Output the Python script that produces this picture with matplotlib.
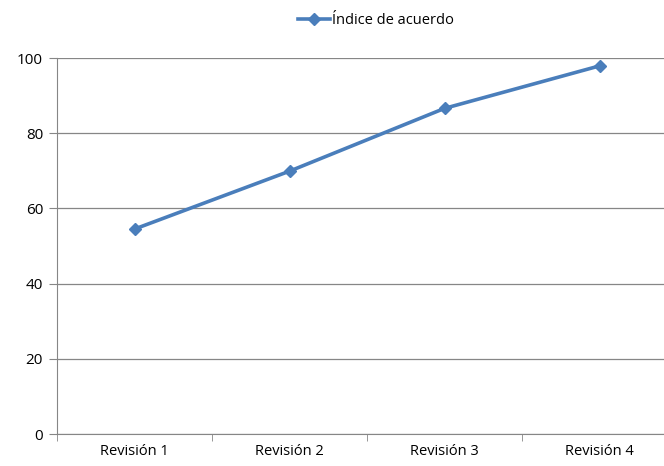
import matplotlib.pyplot as plt
import numpy as np

categories = ["Revisión 1", "Revisión 2", "Revisión 3", "Revisión 4"]
values = [54.5, 69.9, 86.6, 97.9]
yticks = [0, 20, 40, 60, 80, 100]
series_name = "Índice de acuerdo"

plt.rcParams['font.family'] = ['Open Sans', 'DejaVu Sans']

fig = plt.figure(figsize=(6.64, 4.66), dpi=100)
ax = fig.add_axes([57 / 664, 32 / 466, 1 - 57 / 664, 376 / 466])

x = np.arange(len(categories))
color = "#4A7EBB"
ax.plot(x, values, color=color, linewidth=2.6, marker="D", markersize=6.5,
        label=series_name)

ax.set_ylim(0, 100)
ax.set_yticks(yticks)
ax.set_xlim(-0.5, 3.416)
ax.set_xticks(x)
ax.set_xticklabels(categories)
ax.set_xticks(np.arange(-0.5, 3.0, 1.0), minor=True)

ax.grid(axis="y", color="#868686", linewidth=0.9)
ax.set_axisbelow(True)
for s in ["top", "right"]:
    ax.spines[s].set_visible(False)
for s in ["left", "bottom"]:
    ax.spines[s].set_color("#868686")
ax.tick_params(axis="x", which="major", length=0, labelsize=10.5, pad=7)
ax.tick_params(axis="x", which="minor", length=5, color="#868686")
ax.tick_params(axis="y", length=6, color="#868686", labelsize=11, pad=4)

fig.legend(loc="upper center", bbox_to_anchor=(0.566, 1.0), frameon=False,
           fontsize=10.5, handlelength=2.2, handletextpad=0.1)

fig.savefig("out.png")
